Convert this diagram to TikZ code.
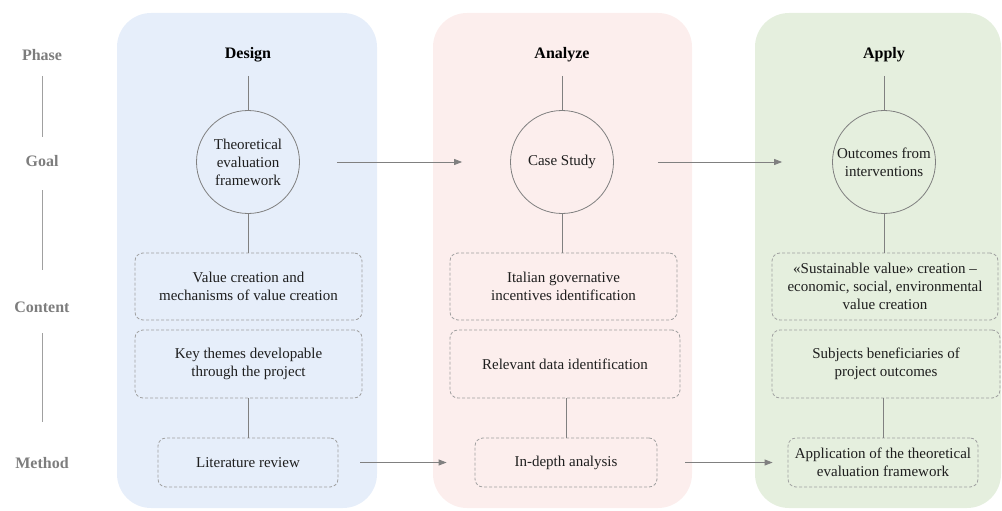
\documentclass[tikz,border=0pt]{standalone}
\usepackage{fontspec}
\setmainfont{Liberation Serif}
\usetikzlibrary{arrows.meta}
\definecolor{pblue}{RGB}{230,238,250}
\definecolor{ppink}{RGB}{252,238,237}
\definecolor{pgreen}{RGB}{229,239,222}
\definecolor{lgray}{RGB}{128,128,128}
\definecolor{dgray}{RGB}{160,160,160}
\definecolor{labgray}{RGB}{125,125,125}
\definecolor{txt}{RGB}{30,30,30}
\tikzset{
  panel/.style={rounded corners=34pt, draw=none},
  phaselab/.style={font=\fontsize{16}{19}\selectfont\bfseries, text=labgray, inner sep=0pt},
  title/.style={font=\fontsize{16}{19}\selectfont\bfseries, text=black, inner sep=0pt},
  goal/.style={circle, draw=lgray, line width=0.8pt, minimum size=103pt, inner sep=0pt, align=center, font=\fontsize{15}{18}\selectfont, text=txt},
  dbox/.style={draw=dgray, dashed, dash pattern=on 3pt off 2pt, line width=0.8pt, rounded corners=8pt, align=center, font=\fontsize{15}{18}\selectfont, text=txt, inner sep=0pt},
  conn/.style={draw=lgray, line width=0.8pt},
  sideline/.style={draw=dgray, line width=0.8pt},
  arr/.style={draw=lgray, line width=0.8pt, -{Triangle[length=8pt,width=6pt]}}
}
\begin{document}
\begin{tikzpicture}[x=1pt,y=-1pt]
\useasboundingbox (0,0) rectangle (1002,511);
% panels
\fill[pblue, panel] (117,13) rectangle (377,508);
\fill[ppink, panel] (433,13) rectangle (692,508);
\fill[pgreen, panel] (755,13) rectangle (1001,508);
% phase labels
\node[phaselab] (lp) at (42,55) {Phase};
\node[phaselab] (lg) at (42,161) {Goal};
\node[phaselab] (lc) at (42,307) {Content};
\node[phaselab] (lm) at (42,463) {Method};
\draw[sideline, shorten <=21pt, shorten >=24pt] (lp.center) -- (lg.center);
\draw[sideline, shorten <=29pt, shorten >=37pt] (lg.center) -- (lc.center);
\draw[sideline, shorten <=26pt, shorten >=41pt] (lc.center) -- (lm.center);
% titles
\node[title] (t1) at (248,55) {Design};
\node[title] (t2) at (562,55) {Analyze};
\node[title] (t3) at (884,55) {Apply};
% goals
\node[goal] (g1) at (248,162) {Theoretical\\evaluation\\framework};
\node[goal] (g2) at (562,162) {Case Study};
\node[goal] (g3) at (884,162) {Outcomes from\\interventions};
% content boxes
\node[dbox, minimum width=227pt, minimum height=67pt] (c1a) at (248.5,286.5) {Value creation and\\mechanisms of value creation};
\node[dbox, minimum width=227pt, minimum height=68pt] (c1b) at (248.5,364) {Key themes developable\\through the project};
\node[dbox, minimum width=180pt, minimum height=49pt] (m1) at (248,462.5) {Literature review};
\node[dbox, minimum width=227pt, minimum height=67pt] (c2a) at (563.5,286.5) {Italian governative\\incentives identification};
\node[dbox, minimum width=230pt, minimum height=68pt] (c2b) at (565,364) {Relevant data identification};
\node[dbox, minimum width=182pt, minimum height=49pt] (m2) at (566,462.5) {In-depth analysis};
\node[dbox, minimum width=226pt, minimum height=67pt] (c3a) at (885,286.5) {«Sustainable value» creation –\\economic, social, environmental\\value creation};
\node[dbox, minimum width=228pt, minimum height=68pt] (c3b) at (886,364) {Subjects beneficiaries of\\project outcomes};
\node[dbox, minimum width=190pt, minimum height=49pt] (m3) at (883,462.5) {Application of the theoretical\\evaluation framework};
% vertical connectors
\draw[conn, shorten <=21pt] (t1.center) -- (g1.north);
\draw[conn, shorten <=21pt] (t2.center) -- (g2.north);
\draw[conn, shorten <=21pt] (t3.center) -- (g3.north);
\draw[conn] (g1.south) -- (g1.south |- c1a.north);
\draw[conn] (g2.south) -- (g2.south |- c2a.north);
\draw[conn] (g3.south) -- (g3.south |- c3a.north);
\draw[conn] (c1b.south -| m1.north) -- (m1.north);
\draw[conn] (c2b.south -| m2.north) -- (m2.north);
\draw[conn] (c3b.south -| m3.north) -- (m3.north);
% horizontal arrows
\draw[arr, shorten <=37pt, shorten >=48pt] (g1.east) -- (g2.west);
\draw[arr, shorten <=44pt, shorten >=50pt] (g2.east) -- (g3.west);
\draw[arr, shorten <=22pt, shorten >=28pt] (m1.east) -- (m2.west);
\draw[arr, shorten <=28pt, shorten >=15pt] (m2.east) -- (m3.west);
\end{tikzpicture}
\end{document}
